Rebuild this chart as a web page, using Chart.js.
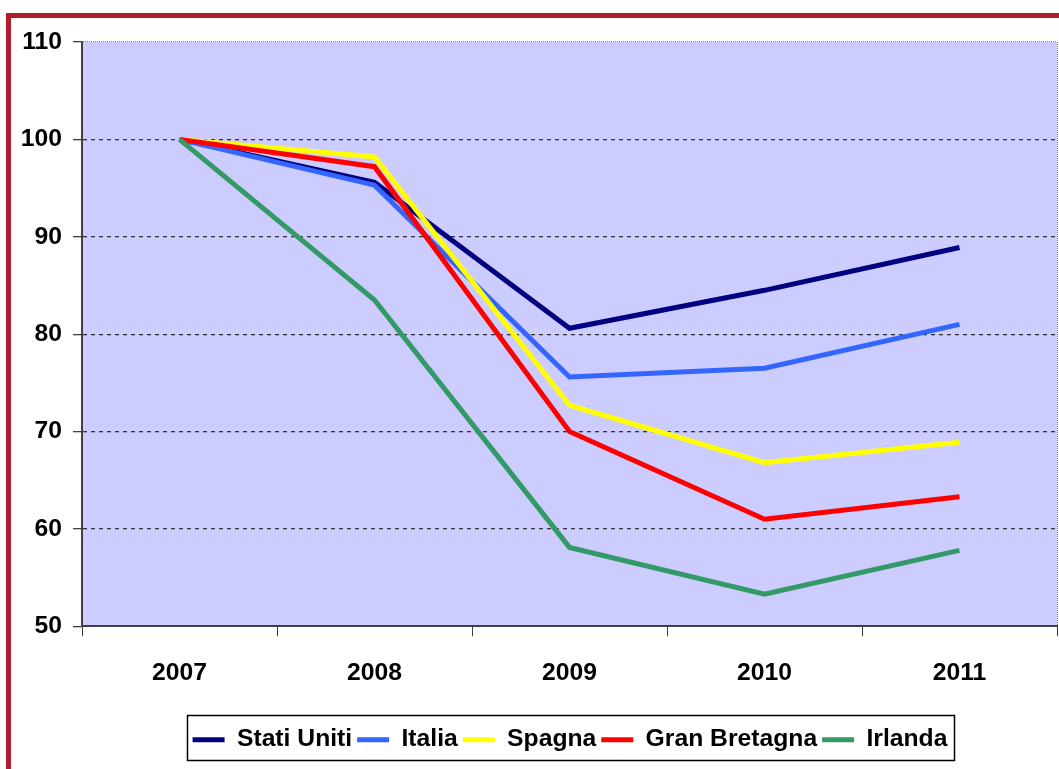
<!DOCTYPE html>
<html>
<head>
<meta charset="utf-8">
<script src="https://cdn.jsdelivr.net/npm/chart.js@4"></script>
<style>
  html, body { margin: 0; padding: 0; background: #fff; }
  #wrap { width: 1059px; height: 769px; position: relative; }
</style>
</head>
<body>
<div id="wrap"><canvas id="myChart" width="1059" height="769"></canvas></div>
<script>
// categories and series
let years = ['2007', '2008', '2009', '2010', '2011']
let statiUniti = [100, 95.6, 80.6, 84.5, 88.9]
let italia = [100, 95.3, 75.6, 76.5, 81.0]
let spagna = [100, 98.2, 72.7, 66.8, 68.9]
let granBretagna = [100, 97.2, 70.0, 61.0, 63.3]
let irlanda = [100, 83.5, 58.1, 53.3, 57.8]
let yTicks = [50, 60, 70, 80, 90, 100, 110]

const seriesNames = ['Stati Uniti', 'Italia', 'Spagna', 'Gran Bretagna', 'Irlanda']
const seriesData = [statiUniti, italia, spagna, granBretagna, irlanda]
const seriesColors = ['#000080', '#3366FF', '#FFFF00', '#FF0000', '#339966']

// the original uses a narrow bold face; pick one if installed, else size Liberation Sans down to the same width
const probe = document.createElement('canvas').getContext('2d')
const hasFont = (name) => {
    probe.font = 'bold 40px monospace'
    let base = probe.measureText('Stati Uniti 2007').width
    probe.font = `bold 40px "${name}", monospace`
    return probe.measureText('Stati Uniti 2007').width !== base
}
let family = "'Liberation Sans', Arial, sans-serif"
let narrowNames = ['Liberation Sans Narrow', 'Arial Narrow', 'Nimbus Sans Narrow']
for (let n of narrowNames) {
    if (hasFont(n)) { family = `'${n}', ${family}`; break }
}
probe.font = `bold 100px ${family}`
let fontSize = Math.round(10 * 13.75 / (probe.measureText('0000').width / 400)) / 10

Chart.defaults.font.family = family
Chart.defaults.font.weight = 'bold'
Chart.defaults.font.size = fontSize
Chart.defaults.color = '#000'

const legendCenterX = 570

// red frame on the page, lavender plot area, box round the legend
const framePlugin = {
    id: 'framePlugin',
    afterUpdate: (chart) => {
        // the legend sits a little right of the page centre in the original
        let legend = chart.legend
        if (!legend) return
        let shift = legendCenterX - (legend.left + legend.right) / 2
        legend.left += shift
        legend.right += shift
        legend.legendHitBoxes.forEach(b => { b.left += shift })
    },
    beforeDraw: (chart) => {
        let ctx = chart.ctx
        let area = chart.chartArea
        ctx.save()
        ctx.fillStyle = '#fff'
        ctx.fillRect(0, 0, chart.width, chart.height)
        ctx.fillStyle = '#B01E2E'
        ctx.fillRect(6, 13, chart.width - 6, 5)
        ctx.fillRect(6, 13, 5, chart.height - 13)
        ctx.fillStyle = '#CCCCFF'
        ctx.fillRect(area.left, area.top, area.right - area.left, area.bottom - area.top)
        ctx.restore()
    },
    afterDraw: (chart) => {
        let legend = chart.legend
        if (!legend || !legend.legendHitBoxes.length) return
        let boxes = legend.legendHitBoxes
        let left = Math.min(...boxes.map(b => b.left)) - 6
        let right = Math.max(...boxes.map(b => b.left + b.width)) + 6
        let top = Math.min(...boxes.map(b => b.top)) - 12
        let bottom = Math.max(...boxes.map(b => b.top + b.height)) + 8
        let ctx = chart.ctx
        ctx.save()
        ctx.strokeStyle = '#000'
        ctx.lineWidth = 1.5
        ctx.strokeRect(Math.round(left) + 0.5, Math.round(top) + 0.5, Math.round(right - left), Math.round(bottom - top))
        ctx.restore()
    }
}

const datasets = seriesNames.map((name, i) => ({
    label: name,
    data: seriesData[i],
    borderColor: seriesColors[i],
    backgroundColor: seriesColors[i],
    borderWidth: 5,
    pointRadius: 0,
    pointHoverRadius: 0,
    tension: 0,
    fill: false,
    order: seriesNames.length - 1 - i
}))

let cfg = {
    type: 'line',
    data: {
        labels: years,
        datasets: datasets
    },
    options: {
        responsive: false,
        animation: false,
        layout: {
            padding: { top: 42, left: 0, right: 2, bottom: 7 }
        },
        plugins: {
            tooltip: { enabled: false },
            legend: {
                position: 'bottom',
                reverse: true,
                labels: {
                    usePointStyle: true,
                    pointStyle: 'line',
                    pointStyleWidth: 32,
                    padding: 5,
                    color: '#000',
                    font: { size: fontSize, weight: 'bold' }
                }
            }
        },
        scales: {
            x: {
                offset: true,
                grid: {
                    offset: true,
                    drawOnChartArea: true,
                    color: (c) => c.tick ? 'rgba(0,0,0,0)' : '#808080',
                    tickColor: '#404040',
                    tickLength: 10,
                    lineWidth: 1
                },
                border: { display: true, color: '#404040', width: 2, dash: [1, 1] },
                ticks: { padding: 22, color: '#000', maxRotation: 0 },
                afterFit: (scale) => { scale.height = 96 }
            },
            y: {
                min: 50,
                max: 110,
                afterBuildTicks: (scale) => { scale.ticks = yTicks.map(v => ({ value: v })) },
                grid: {
                    color: (c) => c.tick && c.tick.value === 110 ? '#909090' : (c.tick && c.tick.value === 50 ? 'rgba(0,0,0,0)' : '#333'),
                    tickColor: '#404040',
                    tickLength: 9,
                    lineWidth: 1.3
                },
                border: {
                    display: true,
                    color: '#404040',
                    width: 2,
                    dash: (c) => c.tick && c.tick.value === 110 ? [1, 1] : [4, 4]
                },
                ticks: { padding: 11, color: '#000' },
                afterFit: (scale) => { scale.width = 82 }
            }
        }
    },
    plugins: [framePlugin]
}

let ctx = document.getElementById('myChart')
let myChart = new Chart(ctx, cfg)
</script>
</body>
</html>
